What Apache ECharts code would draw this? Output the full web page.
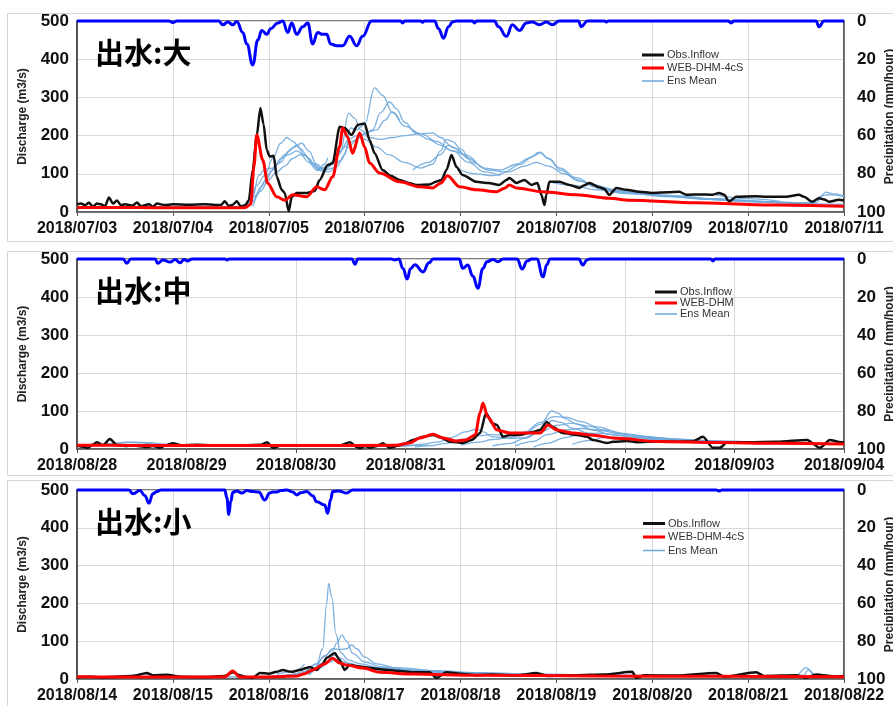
<!DOCTYPE html>
<html>
<head>
<meta charset="utf-8">
<script src="https://cdn.jsdelivr.net/npm/echarts/dist/echarts.min.js"></script>
<style>
  html, body { margin: 0; padding: 0; background: #ffffff; }
  #chart { width: 893px; height: 706px; }
</style>
</head>
<body>
<div id="chart"></div>
<script>
// ---- Tick labels (one per day) ----
const p1Days = ['2018/07/03','2018/07/04','2018/07/05','2018/07/06','2018/07/07','2018/07/08','2018/07/09','2018/07/10','2018/07/11'];
const p2Days = ['2018/08/28','2018/08/29','2018/08/30','2018/08/31','2018/09/01','2018/09/02','2018/09/03','2018/09/04'];
const p3Days = ['2018/08/14','2018/08/15','2018/08/16','2018/08/17','2018/08/18','2018/08/19','2018/08/20','2018/08/21','2018/08/22'];

// ---- Event 1 (large): [hours from start, value] ----
const p1Obs = [[0,20],[1,22],[2,18],[3,24],[4,14],[5,22],[6,20],[7,15],[8,38],[9,22],[10,30],[11,18],[12,20],[14,17],[15,25],[16,15],[18,20],[19,14],[20,22],[22,18],[24,20],[28,19],[32,20],[36,18],[37,28],[38,16],[39,19],[40,28],[41,15],[42,17],[43,30],[44,110],[45,200],[45.9,272],[46.7,230],[47.5,162],[48.25,145],[49.25,147],[50,92],[51.25,58],[52,50],[53,2],[53.75,40],[55,50],[57.5,50],[59.5,55],[60.75,84],[62.75,123],[64,128],[65.75,223],[67,220],[68.75,202],[70.25,228],[72,232],[73.25,188],[74.5,154],[76.5,110],[78.5,95],[80.75,84],[83,76],[85,71],[88.25,72],[90,80],[91.25,84],[92.5,110],[93.75,149],[95,118],[96.5,97],[100,79],[103,76],[105.75,71],[107.5,84],[108.25,89],[110,76],[112,84],[113.75,71],[115.25,76],[116.25,45],[117,18],[117.5,45],[118.25,79],[120.75,79],[123.25,71],[125.75,63],[127,70],[128.25,76],[130.75,65],[132,60],[133.25,45],[135,63],[137.5,58],[140.75,53],[144,50],[148,52],[150.75,53],[152.5,45],[156,46],[159,45],[160.75,50],[162,45],[163.25,27],[165,40],[170,41],[172.5,40],[177.5,40],[180.75,45],[182,40],[184,27],[185.75,36],[187,33],[188.25,27],[190.75,32],[192,30]];
const p1Sim = [[0,12],[10,12],[20,11],[30,11],[42,11],[43.5,20],[44.3,120],[45,202],[46.5,136],[47.75,75],[50,40],[52,31],[54,45],[57.5,40],[60,66],[62,58],[64,92],[65.75,171],[66.5,220],[67.75,196],[69,154],[70.75,207],[72,170],[73.25,128],[75.75,102],[80.75,79],[85.75,66],[89,63],[91,75],[92.75,95],[95.75,66],[100,58],[105,53],[107,62],[108.25,71],[110,63],[116.5,53],[125,45],[133.25,36],[138.25,31],[155,24],[175,18],[192,15]];
const p1Ens1 = [[0,14],[20,14],[40,14],[42,16],[44,40],[45.5,95],[47,112],[49,115],[51,130],[53,160],[55,175],[57,150],[59,125],[61,108],[63,105],[65,118],[67,150],[68.5,220],[70,215],[72,230],[74.5,325],[76.5,305],[79,260],[82,225],[86,205],[90,185],[94,160],[98,130],[102,105],[106,95]];
const p1Ens2 = [[41,14],[43,22],[45,70],[47,95],[49,140],[51,180],[52.5,195],[54,185],[56,165],[58,140],[60,115],[62,110],[64,125],[66,160],[68,259],[69.5,245],[71,215],[73,195],[76,190],[79,195],[82,200],[86,205],[89,207],[91,195],[94,170],[97,150],[100,130]];
const p1Ens3 = [[42,14],[44,28],[46,65],[48,100],[50,125],[52,150],[54,168],[56.25,180],[58,160],[60,125],[62,110],[64,115],[66,135],[68,170],[70,190],[72,205],[74,215],[76,260],[78.25,288],[80,270],[82,235],[85,205],[88,190],[91,175],[94,160],[98,140]];
const p1Ens4 = [[43,14],[45,45],[47,80],[49,110],[51,140],[53,150],[55,160],[57,148],[59,128],[61,115],[63,120],[65,145],[67,170],[69,185],[71,200],[73,210],[75,215],[77,240],[79,262],[80.75,240]];
const p1Ens5 = [[44,14],[46,55],[48,85],[50,105],[52,120],[54,140],[56,150],[58,130],[60,110],[62,125],[62.75,142]];
const p1Ens6 = [[60,108],[62,115],[64,130],[66,160],[68,190],[70,200],[72,190],[75,170],[78,150],[82,130],[86,115],[89,125],[91,160],[92.5,190],[94,185],[96,165],[99,130],[103,110],[107,105],[111,125],[114,145],[116,155],[118,140],[121,110],[125,85],[130,65],[136,52]];
const p1Ens7 = [[84,110],[88,130],[91,150],[93,175],[95,165],[98,140],[102,115],[106,110],[110,125],[113,140],[115.75,157],[118,140],[121,115],[125,90],[129,72],[134,58],[140,50],[148,42],[158,35],[170,28],[182,23]];
const p1Ens8 = [[96,110],[100,100],[104,95],[108,105],[112,120],[115,130],[118,120],[122,100],[126,80],[130,68],[136,55],[144,45],[152,38],[162,31],[172,26],[182,22],[192,20]];
const p1Ens9 = [[118,80],[124,70],[130,58],[138,48],[148,40],[158,33],[168,27],[178,23],[184,21],[186,40],[187.5,52],[189,48],[192,42]];
const p1Ens10 = [[140,50],[150,42],[160,34],[170,28],[180,24],[185,25],[187,44],[189,45],[192,40]];
const p1Ens11 = [[130,62],[145,45],[160,33],[175,25]];
const p1Ens12 = [[160,45],[168,35],[176,28]];
const p1Rain = [[0,0],[23,0],[24,0.8],[25,0],[35.5,0],[36.5,2],[37.75,0.5],[39,2],[40,0.3],[41.5,6],[42.5,12],[44,23],[45.25,10],[46.25,5],[47.5,7],[48.5,4],[50.25,1],[51.5,0],[52.75,6],[53.75,1],[55,7],[56.5,3],[57.75,1],[59,12],[60.25,6],[61.5,7],[62.5,7],[63.5,12],[65,13],[66.5,13],[68.25,8],[70,13],[71.5,8],[73.75,0],[81,0],[81.5,1],[82,0],[86,0],[86.5,0.7],[87,0],[89.5,0],[90.5,4],[91.75,9],[93,3],[94,0.5],[95,0],[99,0],[99.5,1],[100,0],[104.5,0],[105.5,3],[107.5,8],[109,2],[110.75,5],[112.5,1],[114,0.5],[115.75,2],[117.5,0.5],[119,2],[120.75,0],[125.5,0],[126.25,3],[127.75,0],[132,0],[132.5,0.5],[133,0],[163,0],[163.75,1],[164.5,0],[185,0],[185.75,3],[187,0],[192,0]];

// ---- Event 2 (medium) ----
const p2Obs = [[0,10],[1.3,6],[2.4,3],[3.5,12],[4.4,18],[5.7,10],[7.2,26],[8.8,10],[10.5,8],[12.3,9],[15.3,5],[16.6,8],[18.2,3],[19.3,9],[21,15],[22.8,10],[26.3,11],[31.5,9],[36.8,10],[40.3,11],[41.6,18],[42.9,3],[44.7,9],[49,10],[54.3,10],[57.8,10],[59.8,18],[61.3,5],[62,2],[63.1,8],[64.2,3],[65.7,8],[67,15],[68.5,3],[70.7,10],[71.8,14],[73.6,24],[75.8,32],[78,37],[79.7,30],[81.7,19],[84.5,16],[86.5,24],[88.3,42],[89.6,95],[90.9,68],[92,63],[93.3,32],[94.8,37],[97,37],[99.9,45],[101.4,50],[102.9,71],[104.2,58],[106.4,42],[109.5,37],[111.7,32],[113,24],[116.1,16],[117.4,19],[120.5,21],[122.6,18],[127,20],[131.4,19],[134.9,20],[137.1,32],[139.3,3],[140.8,3],[142.4,18],[147.2,18],[153.3,19],[159.9,24],[162.7,3],[164.9,24],[167.1,18],[168,18]];
const p2Sim = [[0,10],[8.8,10],[17.5,9],[35,9],[52.6,9],[70,10],[72.9,16],[75.1,29],[78,39],[80.2,29],[83,21],[85.2,24],[87.2,37],[88.3,95],[88.9,121],[90,84],[92,50],[94.8,42],[98.6,42],[101.4,42],[103.2,63],[105.1,50],[108.6,42],[112.6,37],[118.3,28],[127,20],[140.2,17],[153.3,15],[168,13]];
const p2Ens1 = [[0,8],[3,10],[7,14],[11,18],[14,16],[18,12],[21,10],[26,9],[35,8]];
const p2Ens2 = [[5,10],[9,15],[12,18],[16,17],[19,13],[23,11],[30,10],[39,9],[49,8],[60,8],[70,8],[77,10]];
const p2Ens3 = [[61,6],[67,7],[72,8],[75,12],[79,18],[82,30],[85,45],[87.5,52],[89,45],[91,32],[95,28],[98,30],[101,45],[102.5,60],[104,75],[106,70],[108.5,55],[112,42],[116,32],[123,25]];
const p2Ens4 = [[74,5],[77,8],[81,15],[84,25],[88,35],[91,38],[95,35],[98,40],[101.5,65],[104,100],[105.2,95],[107,80],[109.5,65],[113,50],[117,38],[122.5,30],[130,24],[137,20]];
const p2Ens5 = [[84,10],[88,18],[91,25],[95,30],[98,45],[101.5,70],[104.5,85],[107,84],[110.5,72],[114,58],[119,42],[124,33],[131,26],[140,21],[149,18]];
const p2Ens6 = [[91,8],[95,15],[98,28],[101.5,45],[105,62],[108.5,68],[112,60],[115.5,50],[121,38],[128,28],[137,22],[145,18],[156,16],[166,14]];
const p2Ens7 = [[96,8],[100,20],[103,38],[107,50],[110.5,54],[114,50],[119,40],[126,30],[135,23],[145,18],[158,15],[168,14]];
const p2Ens8 = [[100,5],[103,15],[107,30],[110.5,40],[114,42],[119,36],[126,28],[135,22],[145,17],[158,14],[168,13]];
const p2Ens9 = [[108.5,12],[112,22],[115.5,30],[119,30],[124,26],[133,20],[143,17],[154,14],[168,12]];
const p2Rain = [[0,0],[10.1,0],[10.9,2.3],[11.8,0],[17.1,0],[17.7,2.3],[18.8,0.5],[20.4,1.6],[21.5,0.3],[22.6,2],[23.4,0.3],[24.3,1],[25.2,0],[32.4,0],[32.9,0.5],[33.3,0],[60.2,0],[60.9,2.7],[61.5,0],[68.8,0],[69.6,0.5],[70.5,0],[71.4,5],[72.3,10.5],[73.1,5],[74,3],[75.8,6.8],[77.1,2],[78,0],[83.7,0],[84.5,4.9],[85.6,3.2],[86.7,9],[87.8,15.4],[88.9,5],[89.8,1.4],[91.1,0.3],[92.2,1.4],[93.3,0],[96.4,0],[97.5,5.3],[98.6,1],[99.6,0],[100.7,0],[102.1,9.4],[102.9,3],[103.6,0],[109.9,0],[110.8,3.2],[111.7,0.5],[112.3,0],[138.8,0],[139.3,1],[139.7,0],[168,0]];

// ---- Event 3 (small) ----
const p3Obs = [[0,5],[3,6],[6,4],[10,6],[14,8],[17.5,16],[19,10],[22.5,11],[26,6],[30,5],[34,6],[37,8],[39,18],[40.75,10],[42,6],[44,3],[45.75,16],[48,14],[50,19],[51.5,24],[53,20],[54,19],[55.75,24],[57.5,29],[58.25,32],[60,24],[61.5,40],[62.5,56],[64.5,69],[65.75,50],[67,24],[68.25,37],[70,34],[71.5,32],[75.75,26],[80,22],[84,18],[88.25,18],[90,3],[92.5,18],[96,14],[100,10],[104,12],[110,9],[115,16],[118,8],[125,10],[132,12],[139,19],[140,3],[142,10],[150,9],[160,16],[162,6],[170,18],[172,8],[180,10],[182.5,3],[185,12],[190,6],[192,8]];
const p3Sim = [[0,6],[10,5],[20,5],[30,5],[37,6],[39,21],[40.75,5],[45,5],[50,6],[55,8],[57,14],[59,24],[62,40],[64,55],[65.75,42],[67.5,37],[71.5,29],[75.75,18],[84,13],[100,10],[130,8],[160,7],[192,6]];
const p3Ens1 = [[0,5],[8,6],[14,10],[17,13],[20,10],[26,7],[34,6],[44,5]];
const p3Ens2 = [[40,5],[46,6],[50,8],[54,12],[57,20],[60,40],[61.5,80],[62.5,200],[63,253],[63.8,215],[64.8,120],[66,70],[68,50],[71,40],[76,30],[84,22],[96,16],[110,12],[124,10]];
const p3Ens3 = [[52,8],[56,15],[60,40],[62,62],[64,75],[65,95],[66.3,116],[67.5,100],[69,68],[72,45],[76,33],[84,24],[96,17],[110,13]];
const p3Ens4 = [[56,10],[59,25],[62,60],[64,80],[66,78],[67.5,80],[68.8,90],[70,80],[72,58],[75,40],[80,30],[90,22],[100,17],[115,13],[130,10]];
const p3Ens5 = [[54,6],[58,15],[61,40],[63,58],[64.5,63],[66,55],[68,42],[72,32],[80,24],[92,18],[106,13],[120,10]];
const p3Ens6 = [[50,12],[53,18],[55,24],[57,40]];
const p3Ens7 = [[58,10],[61,30],[63,45],[65,50],[67,44],[70,35],[76,27],[86,20],[100,15],[116,12],[135,10],[155,9],[175,8]];
const p3Ens8 = [[140,8],[160,7],[175,7],[180,9],[182.5,30],[184.5,12],[188,8],[192,6]];
const p3Ens9 = [[70,30],[80,22],[90,18],[100,14],[120,10],[150,8],[170,7],[182,10],[183,25],[185,10],[192,8]];
const p3Rain = [[0,0],[13,0],[14,2],[15.75,0.3],[17,3],[18,7],[19,2],[20,0.8],[21,0],[37,0],[37.5,4],[38,13],[38.5,6],[39,1.2],[40,0.5],[41.25,1.6],[42.5,0.3],[44,0.8],[45.5,1],[47,5.3],[48.25,1.6],[49,1],[50,1],[51,0.3],[52.5,0],[54,1],[55,2.6],[56,1.5],[57.5,0.8],[59,3],[60,6.2],[62,8],[62.75,12.3],[63.5,5],[64,0.8],[65.5,0.5],[67.5,1.6],[69,0],[160,0],[160.75,0.5],[161.5,0],[192,0]];

// ---- Panel layout ----
const panels = [
  { top: 21,  height: 191, days: p1Days, label: '出水:大', simName: 'WEB-DHM-4cS',
    obs: p1Obs, sim: p1Sim, rain: p1Rain,
    ens: [p1Ens1,p1Ens2,p1Ens3,p1Ens4,p1Ens5,p1Ens6,p1Ens7,p1Ens8,p1Ens9,p1Ens10,p1Ens11,p1Ens12],
    legendLeft: 642, legendTop: 49.5, legendGap: 2, box: [13.5, 228] },
  { top: 259, height: 190, days: p2Days, label: '出水:中', simName: 'WEB-DHM',
    obs: p2Obs, sim: p2Sim, rain: p2Rain,
    ens: [p2Ens1,p2Ens2,p2Ens3,p2Ens4,p2Ens5,p2Ens6,p2Ens7,p2Ens8,p2Ens9],
    legendLeft: 655, legendTop: 286.5, legendGap: 0, box: [251.5, 224] },
  { top: 490, height: 189, days: p3Days, label: '出水:小', simName: 'WEB-DHM-4cS',
    obs: p3Obs, sim: p3Sim, rain: p3Rain,
    ens: [p3Ens1,p3Ens2,p3Ens3,p3Ens4,p3Ens5,p3Ens6,p3Ens7,p3Ens8,p3Ens9],
    legendLeft: 643, legendTop: 518, legendGap: 2.5, box: [480.5, 240] }
];

const AXIS_DARK = '#555555';
const GRID_LIGHT = '#d9d9d9';
const FONT = 'Arial, "Liberation Sans", sans-serif';
// legend swatches: solid bars, thinner one for the ensemble lines
const BAR_THICK = 'path://M0,0h22v3h-22z';
const BAR_THIN = 'path://M0,0h22v0.01h-22z M0,0.8h22v1.4h-22z M0,2.99h22v0.01h-22z';

const grid = [], xAxis = [], yAxis = [], series = [], legend = [], title = [], graphic = [];

panels.forEach((p, i) => {
  const span = (p.days.length - 1) * 24;
  grid.push({ left: 77, right: 49, top: p.top, height: p.height,
    containLabel: false, outerBoundsMode: 'none',
    show: true, borderColor: AXIS_DARK, borderWidth: 1.5, backgroundColor: 'transparent' });

  xAxis.push({
    type: 'value', gridIndex: i, min: 0, max: span, interval: 24,
    axisLine: { show: true, lineStyle: { color: AXIS_DARK, width: 1.5 } },
    axisTick: { show: true, length: 4, lineStyle: { color: AXIS_DARK } },
    splitLine: { show: true, lineStyle: { color: GRID_LIGHT, width: 1 } },
    axisLabel: { margin: 9, color: '#111', fontSize: 16, fontWeight: 'bold', fontFamily: FONT,
      showMinLabel: true, showMaxLabel: true, hideOverlap: false,
      formatter: (v) => p.days[Math.round(v / 24)] || '' }
  });

  yAxis.push({
    type: 'value', gridIndex: i, position: 'left', min: 0, max: 500, interval: 100,
    name: 'Discharge (m3/s)', nameLocation: 'middle', nameRotate: 90, nameGap: 48,
    nameMoveOverlap: false,
    nameTextStyle: { fontSize: 12, fontWeight: 'bold', color: '#222', fontFamily: FONT },
    axisLine: { show: true, lineStyle: { color: AXIS_DARK, width: 2 } },
    axisTick: { show: false },
    splitLine: { show: true, lineStyle: { color: GRID_LIGHT, width: 1 } },
    axisLabel: { margin: 8, color: '#111', fontSize: 17, fontWeight: 'bold', fontFamily: FONT }
  });
  yAxis.push({
    type: 'value', gridIndex: i, position: 'right', min: 0, max: 100, interval: 20, inverse: true,
    name: 'Precipitation (mm/hour)', nameLocation: 'middle', nameRotate: 90, nameGap: 40,
    nameMoveOverlap: false,
    nameTextStyle: { fontSize: 12, fontWeight: 'bold', color: '#222', fontFamily: FONT },
    axisLine: { show: true, lineStyle: { color: AXIS_DARK, width: 1.5 } },
    axisTick: { show: false },
    splitLine: { show: false },
    axisLabel: { margin: 13, color: '#111', fontSize: 17, fontWeight: 'bold', fontFamily: FONT }
  });

  const yLeft = i * 2, yRight = i * 2 + 1;
  p.ens.forEach((d) => {
    series.push({ name: 'Ens Mean', type: 'line', xAxisIndex: i, yAxisIndex: yLeft, data: d,
      symbol: 'none', smooth: 0.4, smoothMonotone: 'x', silent: true, z: 2,
      lineStyle: { color: '#6fa8dc', width: 1.3, opacity: 0.9 }, itemStyle: { color: '#6fa8dc' } });
  });
  series.push({ name: 'Obs.Inflow', type: 'line', xAxisIndex: i, yAxisIndex: yLeft, data: p.obs,
    symbol: 'none', smooth: 0.25, smoothMonotone: 'x', silent: true, z: 3,
    lineStyle: { color: '#111111', width: 2.5 }, itemStyle: { color: '#111111' } });
  series.push({ name: p.simName, type: 'line', xAxisIndex: i, yAxisIndex: yLeft, data: p.sim,
    symbol: 'none', smooth: 0.3, smoothMonotone: 'x', silent: true, z: 4,
    lineStyle: { color: '#ff0000', width: 3 }, itemStyle: { color: '#ff0000' } });
  series.push({ name: 'Rain', type: 'line', xAxisIndex: i, yAxisIndex: yRight, data: p.rain,
    symbol: 'none', smooth: 0.45, smoothMonotone: 'x', silent: true, z: 5, clip: false,
    lineStyle: { color: '#0000ff', width: 3 }, itemStyle: { color: '#0000ff' } });

  legend.push({
    orient: 'vertical', left: p.legendLeft, top: p.legendTop, padding: 0,
    itemWidth: 22, itemHeight: 3, itemGap: p.legendGap, selectedMode: false,
    data: [
      { name: 'Obs.Inflow', icon: BAR_THICK },
      { name: p.simName, icon: BAR_THICK },
      { name: 'Ens Mean', icon: BAR_THIN }
    ],
    textStyle: { fontSize: 11, color: '#333', fontFamily: FONT, padding: [0, 0, 0, -2] }
  });

  title.push({ text: p.label, left: 95, top: p.top + 17, padding: 0,
    textStyle: { fontSize: 29, fontWeight: 'bold', color: '#000',
      fontFamily: '"Noto Sans CJK JP", "Noto Sans CJK SC", sans-serif' } });

  graphic.push({ type: 'rect', silent: true, z: -10,
    shape: { x: 7.5, y: p.box[0], width: 900, height: p.box[1] },
    style: { fill: 'none', stroke: '#d6d6d6', lineWidth: 1 } });
});

const chart = echarts.init(document.getElementById('chart'), null, { renderer: 'canvas' });
chart.setOption({
  animation: false,
  backgroundColor: '#ffffff',
  title, legend, grid, xAxis, yAxis, series, graphic
});
</script>
</body>
</html>
